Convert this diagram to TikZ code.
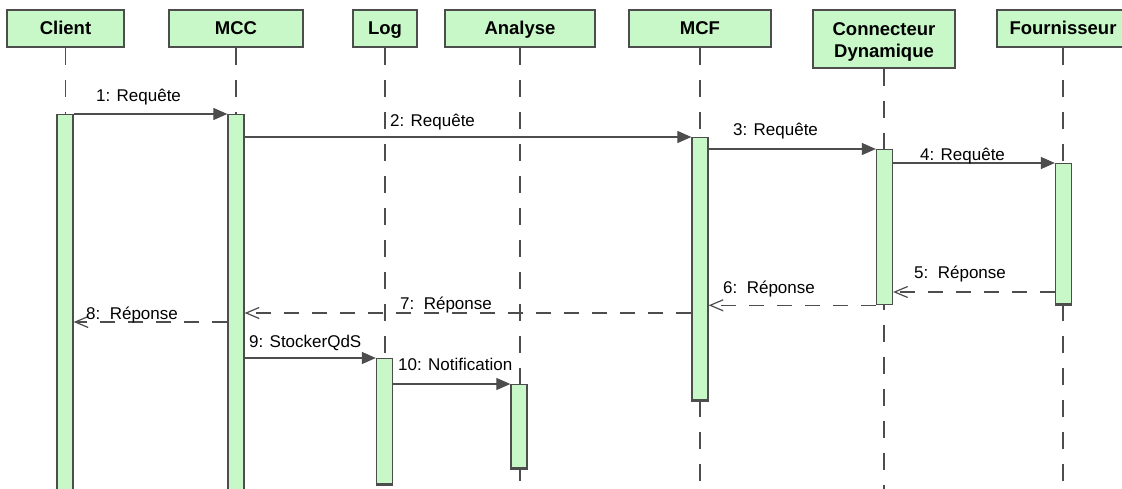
\documentclass[tikz,border=0pt]{standalone}
\usepackage{fontspec}
\setmainfont{Liberation Sans}
\usetikzlibrary{arrows.meta}
\definecolor{actgreen}{RGB}{200,248,200}
\definecolor{edge}{RGB}{77,77,77}
\begin{document}
\begin{tikzpicture}[x=1pt,y=-1pt,
  head/.style={draw=edge,line width=1.3pt,fill=actgreen,font=\fontsize{18.5}{22}\selectfont\bfseries,inner sep=0pt,minimum height=37pt,text height=13pt,text depth=0pt},
  head2/.style={draw=edge,line width=1.3pt,fill=actgreen,font=\fontsize{18.5}{22}\selectfont\bfseries,inner sep=0pt,align=center},
  act/.style={draw=edge,line width=1.3pt,fill=actgreen,minimum width=16pt,inner sep=0pt,anchor=north},
  actbot/.style={draw=edge,line width=3pt},
  life/.style={draw=edge,line width=1.2pt,dash pattern=on 17pt off 15pt},
  sync/.style={draw=edge,line width=1.2pt,-{Triangle[length=14pt,width=12pt]}},
  reply/.style={draw=edge,line width=1.2pt,dash pattern=on 15pt off 13pt,-{Straight Barb[length=13pt,width=11pt]}},
  lbl/.style={font=\fontsize{17}{20}\selectfont,inner sep=0pt,anchor=base west}]
\useasboundingbox[fill=white] (0,0) rectangle (1122,489);
\begin{scope}
\clip (0,0) rectangle (1122,489);
% header boxes
\node[head,minimum width=117pt] (hClient) at (65.5,28.5) {Client};
\node[head,minimum width=134pt] (hMCC) at (236,28.5) {MCC};
\node[head,minimum width=64pt] (hLog) at (385,28.5) {Log};
\node[head,minimum width=150pt] (hAna) at (520,28.5) {Analyse};
\node[head,minimum width=142pt] (hMCF) at (700,28.5) {MCF};
\node[head2,minimum width=142pt,minimum height=58pt] (hConn) at (884,39) {\rule{0pt}{19pt}Connecteur\\Dynamique};
\node[head,minimum width=132pt] (hFourn) at (1063,28.5) {Fournisseur};
% lifelines
\coordinate (bot) at (0,492);
\foreach \n in {hClient,hMCC,hLog,hAna,hMCF,hConn,hFourn}
  \draw[life] (\n.south) -- (\n.south |- bot);
% activations
\node[act,minimum height=390pt] (aClient) at (65,114) {};
\node[act,minimum height=390pt] (aMCC) at (236,114) {};
\node[act,minimum height=125pt] (aLog) at (384.5,358) {};
\node[act,minimum height=83pt] (aAna) at (519,384) {};
\node[act,minimum height=262pt] (aMCF) at (700,137) {};
\node[act,minimum height=155pt] (aConn) at (884.5,149) {};
\node[act,minimum height=140pt] (aFourn) at (1063.5,163) {};
\foreach \n in {aLog,aAna,aMCF,aFourn}
  \draw[actbot] (\n.south west) -- (\n.south east);
% messages
\coordinate (y5) at (0,292);
\coordinate (y7) at (0,313);
\coordinate (y8) at (0,322);
\draw[sync] (aClient.north east) -- (aMCC.north west);
\draw[sync] (aMCC.east |- aMCF.north) -- (aMCF.north west);
\draw[sync] (aMCF.east |- aConn.north) -- (aConn.north west);
\draw[sync] (aConn.east |- aFourn.north) -- (aFourn.north west);
\draw[reply] (aFourn.west |- y5) -- (aConn.east |- y5);
\draw[reply] (aConn.south west) -- (aMCF.east |- aConn.south);
\draw[reply] (aMCF.west |- y7) -- (aMCC.east |- y7);
\draw[reply] (aMCC.west |- y8) -- (aClient.east |- y8);
\draw[sync] (aMCC.east |- aLog.north) -- (aLog.north west);
\draw[sync] (aLog.east |- aAna.north) -- (aAna.north west);
% labels
\node[lbl] (l1) at (96,102) {1: Requête};
\node[lbl] (l2) at (390,127) {2: Requête};
\node[lbl] (l3) at (733,136) {3: Requête};
\node[lbl] (l4) at (920,161) {4: Requête};
\node[lbl] (l5) at (914,278) {5:\ \ Réponse};
\node[lbl] (l6) at (723,293) {6:\ \ Réponse};
\node[lbl] (l7) at (400,309) {7:\ \ Réponse};
\node[lbl] (l8) at (86,319) {8:\ \ Réponse};
\node[lbl] (l9) at (249,347) {9: StockerQdS};
\node[lbl] (l10) at (398,370) {10: Notification};
\end{scope}
\end{tikzpicture}
\end{document}
